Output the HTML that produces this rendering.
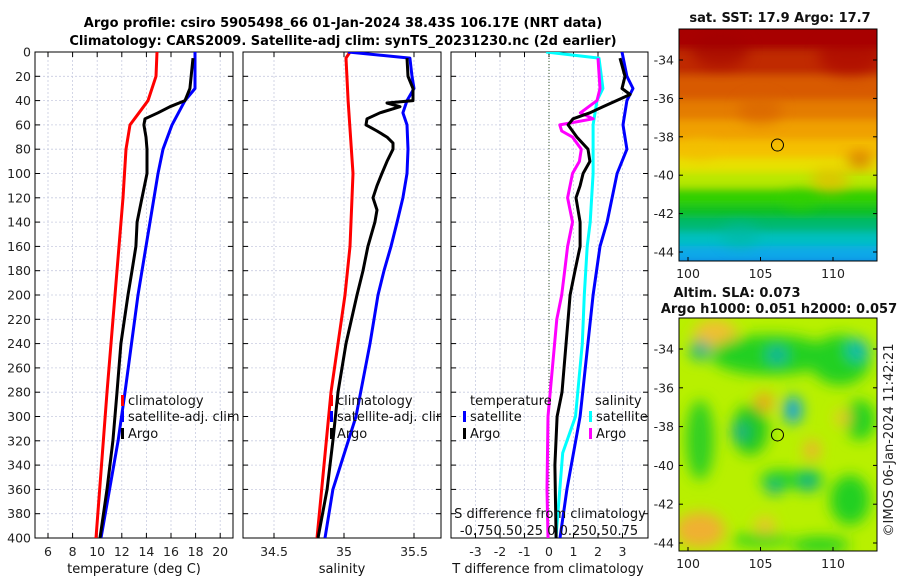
<!DOCTYPE html>
<html><head><meta charset="utf-8">
<style>
html,body{margin:0;padding:0;background:#fff;}
svg{display:block;font-family:"DejaVu Sans","Liberation Sans",sans-serif;}
</style></head>
<body>
<svg id="chart" width="900" height="580" viewBox="0 0 900 580" xmlns="http://www.w3.org/2000/svg">
<defs>
<filter id="blur4" x="-20%" y="-20%" width="140%" height="140%"><feGaussianBlur stdDeviation="4"/></filter>
<filter id="blur8" x="-50%" y="-50%" width="200%" height="200%"><feGaussianBlur stdDeviation="7"/></filter>
<clipPath id="clipTop"><rect x="679" y="29" width="198" height="232"/></clipPath>
<clipPath id="clipBot"><rect x="679" y="318" width="198" height="233"/></clipPath>
<clipPath id="clipP1"><rect x="35" y="52" width="198" height="486"/></clipPath>
<clipPath id="clipP2"><rect x="243" y="52" width="198" height="486"/></clipPath>
<clipPath id="clipP3"><rect x="451" y="52" width="197" height="486"/></clipPath>
</defs>
<text x="343" y="27" text-anchor="middle" font-size="13" font-weight="bold">Argo profile: csiro 5905498_66 01-Jan-2024 38.43S 106.17E (NRT data)</text>
<text x="343" y="45" text-anchor="middle" font-size="13" font-weight="bold">Climatology: CARS2009. Satellite-adj clim: synTS_20231230.nc (2d earlier)</text>
<g id="g"></g>
</svg>
<script>
// ---------- data ----------
const depthTicks = [0,20,40,60,80,100,120,140,160,180,200,220,240,260,280,300,320,340,360,380,400];
const tTicks = [6,8,10,12,14,16,18,20];
const sTicks = [34.5,35,35.5];
const tdTicks = [-3,-2,-1,0,1,2,3];

const climTDepth = [0,20,40,50,60,80,120,160,200,280,400];
const climT = [14.86,14.78,14.13,13.4,12.67,12.34,12.10,11.77,11.45,10.80,9.90];
const satTDepth = [0,30,40,60,80,100,140,200,280,320,400];
const satT = [17.95,17.95,17.14,16.08,15.35,14.94,14.29,13.32,12.26,11.7,10.31];
const argoDepth = [5,30,40,45,50,55,60,70,80,100,120,140,160,180,200,240,280,320,360,400];
const argoT = [17.79,17.54,17.14,15.92,14.94,13.89,13.80,13.97,14.05,14.05,13.64,13.24,13.15,12.83,12.50,11.93,11.61,11.28,10.80,10.23];

const climSDepth = [0,5,40,100,160,200,280,400];
const climS = [35.043,35.014,35.029,35.064,35.043,35.007,34.907,34.807];
const satSDepth = [0,5,20,30,40,50,60,80,100,120,140,160,180,200,240,300,360,400];
const satS = [35.029,35.471,35.486,35.5,35.45,35.421,35.45,35.457,35.45,35.421,35.379,35.336,35.286,35.243,35.186,35.086,34.921,34.864];
const argoSDepth = [5,20,30,40,42,45,50,55,60,65,70,75,80,90,100,110,120,130,140,160,180,200,240,280,320,360,400];
const argoS = [35.45,35.457,35.493,35.493,35.307,35.4,35.257,35.164,35.157,35.236,35.307,35.35,35.35,35.307,35.271,35.236,35.207,35.236,35.221,35.171,35.136,35.093,35.014,34.957,34.921,34.879,34.814];

const satSdDepth = [0,5,30,40,60,100,140,160,200,240,300,330,360,400];
const satSd = [-0.03,0.51,0.55,0.49,0.45,0.45,0.42,0.39,0.36,0.34,0.27,0.14,0.11,0.07];
const satTdDepth = [0,20,30,40,60,80,100,140,160,200,300,360,400];
const satTd = [2.98,3.18,3.43,3.18,3.02,3.18,2.78,2.37,2.08,1.80,1.27,0.73,0.45];
const argoTdDepth = [5,20,30,35,45,50,55,60,70,80,90,100,110,120,140,160,180,200,220,280,300,340,400];
const argoTd = [2.90,3.10,2.98,3.31,2.20,1.67,0.98,0.78,1.14,1.59,1.67,1.39,1.27,1.10,1.27,1.27,1.06,0.86,0.78,0.53,0.33,0.24,0.29];
const argoSdDepth = [5,30,40,50,55,60,65,70,80,90,100,120,140,160,180,200,220,300,360,400];
const argoSd = [0.50,0.52,0.49,0.32,0.45,0.11,0.13,0.24,0.33,0.31,0.24,0.19,0.24,0.19,0.16,0.13,0.08,-0.01,-0.02,-0.01];

const sstLatTicks = [-34,-36,-38,-40,-42,-44];
const lonTicks = [100,105,110];

// ---------- helpers ----------
const NS="http://www.w3.org/2000/svg";
const G=document.getElementById('g');
function el(tag,attrs,parent){const e=document.createElementNS(NS,tag);for(const k in attrs)e.setAttribute(k,attrs[k]);(parent||G).appendChild(e);return e;}
const y = d => 52 + d*1.215;
const xT = t => 48 + (t-6)*12.3;
const xS = s => 344 + (s-35)*140;
const xTd = v => 549 + v*24.5;
const xSd = v => 549 + v*98;

function panel(x0,x1,xTicksVals,xf,labels,name,showY){
  const grp=el('g',{});
  
  
  depthTicks.forEach(d=>{el('line',{x1:x0,x2:x1,y1:y(d),y2:y(d),stroke:'#c8cce0','stroke-dasharray':'2,2','stroke-width':0.8},grp);});
  xTicksVals.forEach(v=>{const xx=xf(v);el('line',{x1:xx,x2:xx,y1:52,y2:538,stroke:'#c8cce0','stroke-dasharray':'2,2','stroke-width':0.8},grp);});
  el('rect',{x:x0,y:52,width:x1-x0,height:486,fill:'none',stroke:'#000','stroke-width':1},grp);
  depthTicks.forEach(d=>{
    el('line',{x1:x0,x2:x0+5,y1:y(d),y2:y(d),stroke:'#000'},grp);
    el('line',{x1:x1,x2:x1-5,y1:y(d),y2:y(d),stroke:'#000'},grp);
    if(showY){const t=el('text',{x:x0-4,y:y(d)+4.5,'text-anchor':'end','font-size':12.5,fill:'#222'},grp);t.textContent=d;
      }
  });
  xTicksVals.forEach((v,i)=>{const xx=xf(v);
    el('line',{x1:xx,x2:xx,y1:538,y2:533,stroke:'#000'},grp);
    el('line',{x1:xx,x2:xx,y1:52,y2:57,stroke:'#000'},grp);
    const t=el('text',{x:xx,y:556,'text-anchor':'middle','font-size':12.5,fill:'#222'},grp);t.textContent=labels[i];
    
  });
  return grp;
}
function line(depths,vals,xf,color,name,clip){
  const pts=depths.map((d,i)=>xf(vals[i]).toFixed(1)+','+y(d).toFixed(1)).join(' ');
  const p=el('polyline',{points:pts,fill:'none',stroke:color,'stroke-width':3,'stroke-linejoin':'round','clip-path':'url(#'+clip+')'});
  
  
}
function txt(x,yy,s,opts,name){const t=el('text',Object.assign({x:x,y:yy,'font-size':13,fill:'#111'},opts||{}));t.textContent=s;
  
  return t;}
function legMark(x,yy,color){el('rect',{x:x,y:yy-10,width:3,height:11,fill:color});}

// ---------- panel 1 ----------
panel(35,233,tTicks,xT,tTicks.map(String),'temperature-panel',true);
line(climTDepth,climT,xT,'#ff0000','climatology-temperature-line','clipP1');
line(satTDepth,satT,xT,'#0000ff','satellite-temperature-line','clipP1');
line(argoDepth,argoT,xT,'#000000','argo-temperature-line','clipP1');
txt(134,573,'temperature (deg C)',{'text-anchor':'middle','font-size':13},'temperature-axis-title');
legMark(121,405,'#ff0000');txt(128,405,'climatology',{},'legend-climatology');
legMark(121,421,'#0000ff');txt(128,421,'satellite-adj. clim',{},'legend-satellite');
legMark(121,438,'#000');txt(128,438,'Argo',{},'legend-argo');

// ---------- panel 2 ----------
panel(243,441,sTicks,xS,['34.5','35','35.5'],'salinity-panel',false);
line(climSDepth,climS,xS,'#ff0000','climatology-salinity-line','clipP2');
line(satSDepth,satS,xS,'#0000ff','satellite-salinity-line','clipP2');
line(argoSDepth,argoS,xS,'#000000','argo-salinity-line','clipP2');
txt(342,573,'salinity',{'text-anchor':'middle'},'salinity-axis-title');
legMark(330,405,'#ff0000');txt(337,405,'climatology',{},'legend-climatology-2');
legMark(330,421,'#0000ff');txt(337,421,'satellite-adj. clim',{},'legend-satellite-2');
legMark(330,438,'#000');txt(337,438,'Argo',{},'legend-argo-2');
el('rect',{x:441,y:408,width:9,height:20,fill:'#fff'});
el('line',{x1:441,x2:441,y1:52,y2:538,stroke:'#000'});

// ---------- panel 3 ----------
panel(451,648,tdTicks,xTd,tdTicks.map(String),'difference-panel',false);
el('line',{x1:549,x2:549,y1:52,y2:538,stroke:'#3a5a2a','stroke-dasharray':'1,2','stroke-width':1});
line(satSdDepth,satSd,xSd,'#00ffff','satellite-salinity-diff-line','clipP3');
line(satTdDepth,satTd,xTd,'#0000ff','satellite-temperature-diff-line','clipP3');
line(argoSdDepth,argoSd,xSd,'#ff00ff','argo-salinity-diff-line','clipP3');
line(argoTdDepth,argoTd,xTd,'#000000','argo-temperature-diff-line','clipP3');
txt(548,573,'T difference from climatology',{'text-anchor':'middle'},'t-diff-axis-title');
txt(470,405,'temperature',{},'legend-temperature-header');
legMark(463,421,'#0000ff');txt(470,421,'satellite',{},'legend-t-satellite');
legMark(463,438,'#000');txt(470,438,'Argo',{},'legend-t-argo');
txt(595,405,'salinity',{},'legend-salinity-header');
legMark(589,421,'#00ffff');txt(596,421,'satellite',{},'legend-s-satellite');
legMark(589,438,'#ff00ff');txt(596,438,'Argo',{},'legend-s-argo');
txt(550,518,'S difference from climatology',{'text-anchor':'middle'},'s-diff-axis-title');
txt(549,535,'-0.750.50.25 0 0.250.50.75',{'text-anchor':'middle'},'s-diff-tick-labels');

// ---------- SST map ----------
const latY1 = lat => 60 + (-34-lat)*19.2;
const latY2 = lat => 349 + (-34-lat)*19.4;
const lonX = lon => 688 + (lon-100)*14.5;
txt(780,22,'sat. SST: 17.9 Argo: 17.7',{'text-anchor':'middle','font-weight':'bold'},'sst-map-title');
const m1=el('g',{'clip-path':'url(#clipTop)'});


const sstBands=[[29,'#a80000'],[50,'#c02a00'],[75,'#d85a00'],[100,'#e47c00'],[120,'#f0a000'],[140,'#f4c000'],[158,'#e8e000'],[172,'#b8e800'],[188,'#30d000'],[205,'#10c020'],[218,'#00b870'],[232,'#00c0c0'],[246,'#10a8e8'],[262,'#1060e0']];
const bandsG=el('g',{filter:'url(#blur4)'},m1);
for(let i=0;i<sstBands.length;i++){const y0=sstBands[i][0], y1=i+1<sstBands.length?sstBands[i+1][0]:275;
  el('rect',{x:670,y:y0-(i?0:10),width:220,height:y1-y0+(i?0:10)+2,fill:sstBands[i][1]},bandsG);}
[[720,50,'#a00000',18],[850,55,'#a80000',20],[760,110,'#d86000',14],[700,150,'#f0c000',10],[830,180,'#f0b000',12],[800,200,'#30d000',10],[740,235,'#00b8a0',12],[860,160,'#c84000',8]].forEach(b=>el('ellipse',{cx:b[0],cy:b[1],rx:b[3]*1.6,ry:b[3],fill:b[2],opacity:0.6,filter:'url(#blur8)'},m1));
el('rect',{x:679,y:29,width:198,height:232,fill:'none',stroke:'#000'});
el('circle',{cx:lonX(106.17),cy:latY1(-38.43),r:6,fill:'none',stroke:'#000','stroke-width':1});
sstLatTicks.forEach(l=>{const yy=latY1(l);el('line',{x1:877,x2:873,y1:yy,y2:yy,stroke:'#000'});el('line',{x1:679,x2:683,y1:yy,y2:yy,stroke:'#000'});
  txt(674,yy+4.5,String(l),{'text-anchor':'end','font-size':12.5,fill:'#222'},'sst-lat-label');});
lonTicks.forEach(l=>{const xx=lonX(l);el('line',{x1:xx,x2:xx,y1:261,y2:257,stroke:'#000'});
  txt(xx,278,String(l),{'text-anchor':'middle','font-size':12.5,fill:'#222'},'sst-lon-label');});

// ---------- SLA map ----------
txt(737,297,'Altim. SLA: 0.073',{'text-anchor':'middle','font-weight':'bold'},'sla-map-title');
txt(779,313,'Argo h1000: 0.051 h2000: 0.057',{'text-anchor':'middle','font-weight':'bold'},'sla-map-subtitle');
const m2=el('g',{'clip-path':'url(#clipBot)'});


el('rect',{x:679,y:318,width:198,height:233,fill:'#b8f000'},m2);
const blobG=el('g',{filter:'url(#blur8)'},m2);
[[715,335,'#f0c030',22,16],[700,530,'#f0b030',25,18],[770,355,'#20d020',60,20],[840,360,'#20d020',30,25],[700,440,'#30d020',14,40],[750,430,'#20c820',18,25],[780,480,'#20d020',20,10],[808,480,'#20d020',15,12],[850,500,'#20d020',20,25],[820,545,'#20d020',30,8],[760,540,'#20d020',30,6],[860,420,'#20d020',15,20]].forEach(b=>el('ellipse',{cx:b[0],cy:b[1],rx:b[3],ry:b[4],fill:b[2]},blobG));
[[700,350,'#10b090',10,10],[777,355,'#10b0a0',10,9],[858,350,'#10b8b0',11,11],[793,410,'#10a0e0',9,14],[740,432,'#10a890',8,8],[808,482,'#10a890',8,8],[774,488,'#10a890',7,7],[764,402,'#f0a020',9,9],[843,418,'#f0c030',8,7],[812,450,'#f0b030',8,10],[765,525,'#f0c030',10,8]].forEach(b=>el('ellipse',{cx:b[0],cy:b[1],rx:b[3],ry:b[4],fill:b[2]},blobG));
el('rect',{x:679,y:318,width:198,height:233,fill:'none',stroke:'#000'});
el('circle',{cx:lonX(106.17),cy:latY2(-38.43),r:6,fill:'none',stroke:'#000','stroke-width':1});
sstLatTicks.forEach(l=>{const yy=latY2(l);el('line',{x1:877,x2:873,y1:yy,y2:yy,stroke:'#000'});el('line',{x1:679,x2:683,y1:yy,y2:yy,stroke:'#000'});
  txt(674,yy+4.5,String(l),{'text-anchor':'end','font-size':12.5,fill:'#222'},'sla-lat-label');});
lonTicks.forEach(l=>{const xx=lonX(l);el('line',{x1:xx,x2:xx,y1:551,y2:547,stroke:'#000'});
  txt(xx,568,String(l),{'text-anchor':'middle','font-size':12.5,fill:'#222'},'sla-lon-label');});
txt(0,0,'©IMOS 06-Jan-2024 11:42:21',{'text-anchor':'middle','font-size':13,fill:'#222',transform:'translate(893,440) rotate(-90)'},'timestamp-label');
</script>
</body></html>
